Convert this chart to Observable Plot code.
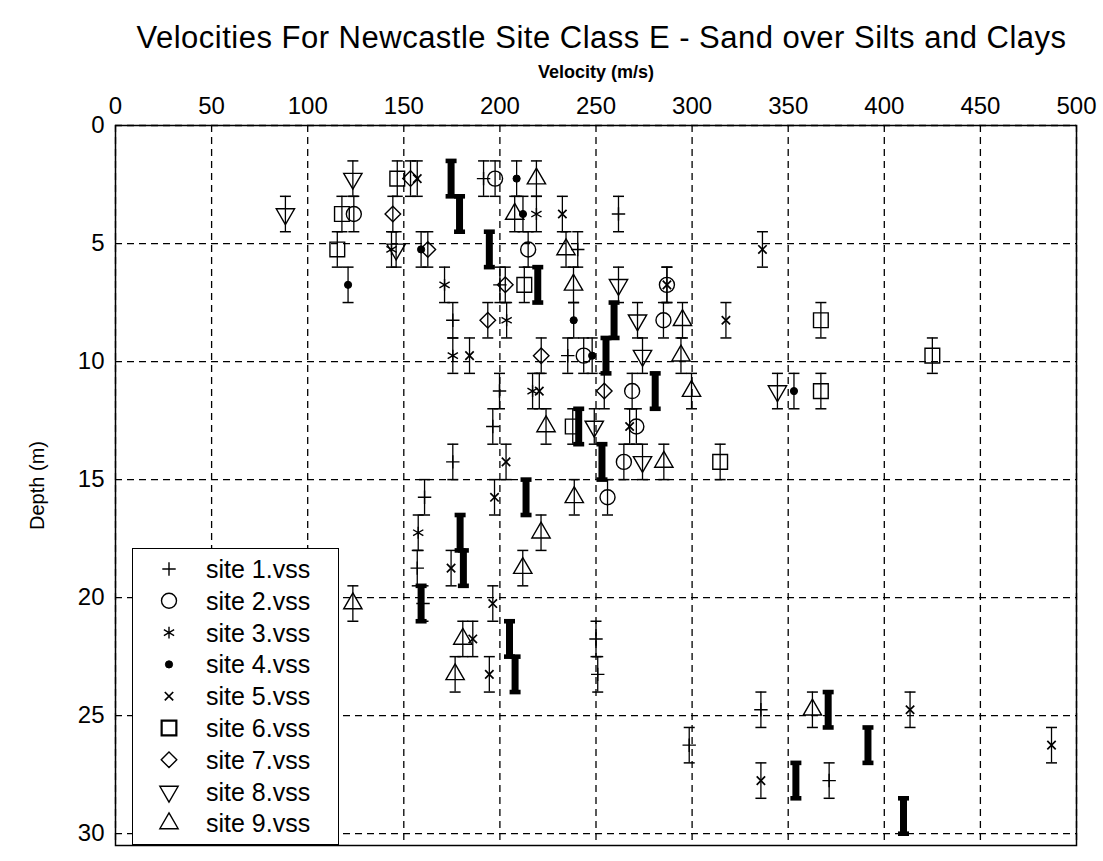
<!DOCTYPE html>
<html>
<head>
<meta charset="utf-8">
<script src="https://cdn.jsdelivr.net/npm/d3@7"></script>
<script src="https://cdn.jsdelivr.net/npm/@observablehq/plot@0.6"></script>
<style>
  body { margin: 0; background: #fff; font-family: "Liberation Sans", Arial, sans-serif; }
  #wrap { position: relative; width: 1103px; height: 861px; overflow: hidden; }
  #title { height: 50px; text-align: center; font-size: 31px; letter-spacing: 0.5px; color: #000; white-space: nowrap; padding-left: 100px; padding-top: 24px; box-sizing: border-box; line-height: 28px; }
  #legend { position: absolute; left: 132px; top: 548px; width: 207px; height: 297px; border: 1.5px solid #000; background: #fff; box-sizing: border-box; }
</style>
</head>
<body>
<div id="wrap">
  <div id="title">Velocities For Newcastle Site Class E - Sand over Silts and Clays</div>
  <div id="chart"></div>
  <div id="legend"></div>
</div>
<script>
// ---------------- data ----------------
const siteNames = ["site 1.vss","site 2.vss","site 3.vss","site 4.vss","site 5.vss","site 6.vss","site 7.vss","site 8.vss","site 9.vss"];

// layer half-thickness of every depth error bar (m)
const halfLayer = 0.75;

const site1Depth = [2.25, 3.75, 5.25, 6.75, 8.25, 9.75, 11.25, 12.75, 14.25, 15.75, 18.75, 20.25, 21.75, 23.25, 24.75, 26.25, 27.75];
const site1Vel   = [191.5, 261.7, 240.5, 200, 175.5, 235.3, 199.8, 196.3, 175.5, 160.8, 157, 160, 250, 250.9, 335.8, 298.5, 371.3];

const site2Depth = [2.25, 3.75, 5.25, 6.75, 8.25, 9.75, 11.25, 12.75, 14.25, 15.75];
const site2Vel   = [197.5, 124, 214.7, 286.9, 285.1, 243.6, 268.8, 271, 264.5, 256];

const site3Depth = [3.75, 5.25, 6.75, 8.25, 9.75, 11.25, 17.25];
const site3Vel   = [219, 143.6, 171.2, 203.5, 175.5, 217, 157.5];

const site4Depth = [2.25, 3.75, 5.25, 6.75, 8.25, 9.75, 11.25];
const site4Vel   = [208.7, 212, 159, 121, 238.4, 248, 353];

const site5Depth = [2.25, 3.75, 5.25, 6.75, 8.25, 9.75, 11.25, 12.75, 14.25, 15.75, 18.75, 20.25, 21.75, 23.25, 24.75, 26.25, 27.75];
const site5Vel   = [157, 232.5, 336.6, 286.9, 317.6, 184.2, 220.5, 267.5, 203.2, 197.2, 174.6, 196.3, 185.9, 194.5, 413.4, 487, 335.8];

const site6Depth = [2.25, 3.75, 5.25, 6.75, 8.25, 9.75, 11.25, 12.75, 14.25];
const site6Vel   = [146.6, 117.8, 115.4, 212.7, 367, 425, 367, 237.9, 314.6];

const site7Depth = [2.25, 3.75, 5.25, 6.75, 8.25, 9.75, 11.25];
const site7Vel   = [153.5, 144.3, 162.5, 202.8, 193.7, 221.5, 254.3];

const site8Depth = [2.25, 3.75, 5.25, 6.75, 8.25, 9.75, 11.25, 12.75, 14.25];
const site8Vel   = [123.5, 88.4, 146, 261.7, 271.6, 274.2, 344.4, 249.1, 274.2];

const site9Depth = [2.25, 3.75, 5.25, 6.75, 8.25, 9.75, 11.25, 12.75, 14.25, 15.75, 17.25, 18.75, 20.25, 21.75, 23.25, 24.75];
const site9Vel   = [219, 207.7, 234.4, 238.3, 295, 294.2, 299.7, 224, 285.3, 238.7, 221.4, 211.9, 123.5, 180.7, 176.7, 362.6];

// average (thick bar) profile
const avgDepth = [2.25, 3.75, 5.25, 6.75, 8.25, 9.75, 11.25, 12.75, 14.25, 15.75, 17.25, 18.75, 20.25, 21.75, 23.25, 24.75, 26.25, 27.75, 29.25];
const avgVel   = [174.6, 179, 194.5, 219.7, 259.4, 255.2, 280.8, 241, 253.1, 213.6, 179.3, 181, 159, 205, 207.9, 370.8, 391.5, 354, 410];

const xTicks = [0, 50, 100, 150, 200, 250, 300, 350, 400, 450, 500];
const yTicks = [0, 5, 10, 15, 20, 25, 30];

// ---------------- build ----------------
const depthArrays = [site1Depth, site2Depth, site3Depth, site4Depth, site5Depth, site6Depth, site7Depth, site8Depth, site9Depth];
const velArrays   = [site1Vel, site2Vel, site3Vel, site4Vel, site5Vel, site6Vel, site7Vel, site8Vel, site9Vel];

// marker styles per site
const styles = [
  {symbol: "plus",     r: 4.4, fill: "none",  rotate: 0,   sw: 1.4},
  {symbol: "circle",   r: 7.5, fill: "none",  rotate: 0,   sw: 1.4},
  {symbol: "asterisk", r: 5.6, fill: "none",  rotate: 0,   sw: 1.4},
  {symbol: "circle",   r: 3.6, fill: "black", rotate: 0,   sw: 1},
  {symbol: "times",    r: 3.9, fill: "none",  rotate: 0,   sw: 1.7},
  {symbol: "square",   r: 8.3, fill: "none",  rotate: 0,   sw: 1.4},
  {symbol: "diamond2", r: 7.0, fill: "none",  rotate: 0,   sw: 1.4},
  {symbol: "triangle", r: 6.8, fill: "none",  rotate: 180, sw: 1.4},
  {symbol: "triangle", r: 6.8, fill: "none",  rotate: 0,   sw: 1.4}
];

const rows = [];
siteNames.forEach((name, i) => {
  velArrays[i].forEach((v, j) => rows.push({site: name, idx: i, v, d: depthArrays[i][j]}));
});
const avg = avgVel.map((v, j) => ({v, d: avgDepth[j]}));

const thinCap = { draw(ctx) { ctx.moveTo(-5.5, 0); ctx.lineTo(5.5, 0); } };
const thickCap = { draw(ctx) { ctx.rect(-5.5, -2.3, 11, 4.6); } };

const marks = [
  Plot.ruleX(xTicks, {x: d => d, stroke: "#000", strokeWidth: 1.3, strokeDasharray: "7,5"}),
  Plot.ruleY(yTicks, {y: d => d, stroke: "#000", strokeWidth: 1.3, strokeDasharray: "7,5"}),
  // thin depth error bars
  Plot.ruleX(rows, {x: "v", y1: d => d.d - halfLayer, y2: d => d.d + halfLayer, stroke: "#000", strokeWidth: 1.3}),
  Plot.dot(rows, {x: "v", y: d => d.d - halfLayer, symbol: thinCap, r: 3, stroke: "#000", fill: "none", strokeWidth: 1.5}),
  Plot.dot(rows, {x: "v", y: d => d.d + halfLayer, symbol: thinCap, r: 3, stroke: "#000", fill: "none", strokeWidth: 1.5}),
  // thick average bars
  Plot.ruleX(avg, {x: "v", y1: d => d.d - halfLayer, y2: d => d.d + halfLayer, stroke: "#000", strokeWidth: 7}),
  Plot.dot(avg, {x: "v", y: d => d.d - halfLayer, symbol: thickCap, r: 3, fill: "#000", stroke: "none"}),
  Plot.dot(avg, {x: "v", y: d => d.d + halfLayer, symbol: thickCap, r: 3, fill: "#000", stroke: "none"})
];
styles.forEach((s, i) => {
  marks.push(Plot.dot(rows.filter(r => r.idx === i), {
    x: "v", y: "d", symbol: s.symbol, r: s.r, rotate: s.rotate,
    fill: s.fill, stroke: "#000", strokeWidth: s.sw
  }));
});
marks.push(
  Plot.frame({stroke: "#000", strokeWidth: 1.5}),
  Plot.axisX({anchor: "top", ticks: xTicks, tickSize: 0, tickPadding: 12, label: null, fontSize: 24}),
  Plot.axisY({anchor: "left", ticks: yTicks, tickSize: 0, tickPadding: 11, label: null, fontSize: 24}),
  Plot.text(["Velocity (m/s)"], {frameAnchor: "top", lineAnchor: "middle", dy: -53, fontSize: 18, fontWeight: "bold", text: d => d}),
  Plot.text(["Depth (m)"], {frameAnchor: "left", textAnchor: "middle", lineAnchor: "middle", dx: -78, rotate: -90, fontSize: 20, text: d => d})
);

const chart = Plot.plot({
  width: 1103,
  height: 811,
  marginTop: 75,
  marginBottom: 16,
  marginLeft: 115,
  marginRight: 27,
  x: {domain: [0, 500], type: "linear"},
  y: {domain: [0, 30.5], reverse: true},
  style: {fontFamily: "'Liberation Sans', Arial, sans-serif", color: "#000", background: "#fff"},
  marks
});
document.getElementById("chart").appendChild(chart);

// ---------------- legend ----------------
const legend = d3.select("#legend").append("svg").attr("width", 204).attr("height", 294);
const symMap = {
  plus: d3.symbolPlus, circle: d3.symbolCircle, asterisk: d3.symbolAsterisk, times: d3.symbolTimes,
  square: d3.symbolSquare, diamond2: d3.symbolDiamond2, triangle: d3.symbolTriangle
};
siteNames.forEach((name, i) => {
  const s = styles[i];
  const cy = 20 + i * 31.8;
  legend.append("path")
    .attr("d", d3.symbol(symMap[s.symbol], s.r * s.r * Math.PI)())
    .attr("transform", `translate(36,${cy}) rotate(${s.rotate})`)
    .attr("fill", s.fill).attr("stroke", "#000").attr("stroke-width", s.symbol === "square" ? 2.2 : s.sw);
  legend.append("text")
    .attr("x", 73).attr("y", cy).attr("dy", "0.36em")
    .attr("font-size", 25).attr("font-family", "'Liberation Sans', Arial, sans-serif")
    .text(name);
});
</script>
</body>
</html>
